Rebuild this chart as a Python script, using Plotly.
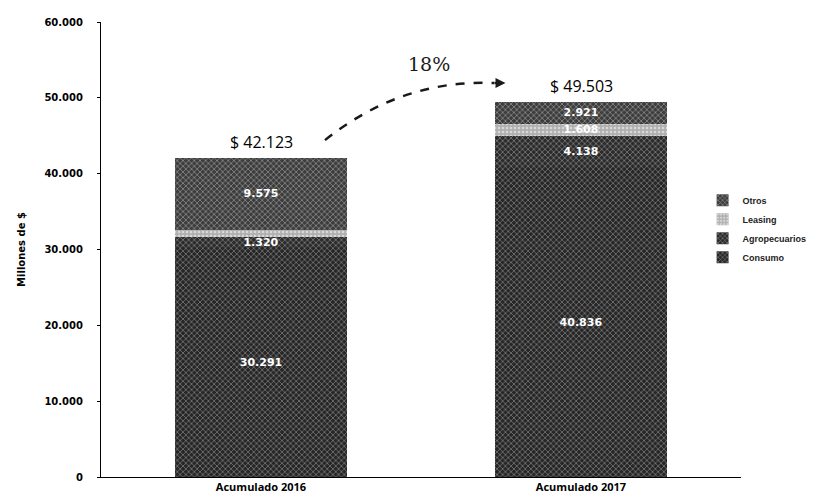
import plotly.graph_objects as go

# Cartera acumulada por tipo de crédito (millones de $)
categorias = ["Acumulado 2016", "Acumulado 2017"]
consumo = [30291, 40836]
agropecuarios = [1320, 4138]
leasing = [937, 1608]
otros = [9575, 2921]

etiquetas_leasing = ["", "1.608"]

y_ticks = [0, 10000, 20000, 30000, 40000, 50000, 60000]


def miles(v):
    return f"{v:,}".replace(",", ".")


totales = [a + b + c + d for a, b, c, d in zip(consumo, agropecuarios, leasing, otros)]
crecimiento = round((totales[1] / totales[0] - 1) * 100)

series = [
    ("Consumo", consumo, "#262626", "#cfcfcf", "x", None),
    ("Agropecuarios", agropecuarios, "#2a2a2a", "#d5d5d5", "x", None),
    ("Leasing", leasing, "#b0b0b0", "#ffffff", ".", etiquetas_leasing),
    ("Otros", otros, "#3c3c3c", "#e0e0e0", "x", None),
]

fig = go.Figure()
for nombre, valores, fondo, trama, forma, etiquetas in series:
    textos = etiquetas if etiquetas is not None else [miles(v) for v in valores]
    fig.add_trace(go.Bar(
        name=nombre,
        x=categorias,
        y=valores,
        text=textos,
        textposition="inside",
        insidetextanchor="middle",
        constraintext="none",
        textfont=dict(family="DejaVu Sans", size=11, color="white", weight="bold"),
        marker=dict(
            color=fondo,
            line=dict(width=0),
            pattern=dict(shape=forma, fgcolor=trama, bgcolor=fondo,
                         size=4, solidity=0.35),
        ),
        hoverinfo="skip",
    ))

# Totales sobre cada barra
for cat, tot in zip(categorias, totales):
    fig.add_annotation(
        x=cat, y=tot, text=f"$ {miles(tot)}", showarrow=False,
        yanchor="bottom", yshift=3,
        font=dict(family="Open Sans", size=16, color="black"),
    )

# Flecha de crecimiento entre ambos años
fig.add_shape(
    type="path", xref="paper", yref="y",
    path=f"M 0.35,{totales[0] + 2300} Q 0.47,{totales[1] + 3000} 0.615,{totales[1] + 2450}",
    line=dict(color="#1a1a1a", width=2.5, dash="dash"),
)
fig.add_annotation(
    xref="paper", yref="y", x=0.632, y=totales[1] + 2450,
    ax=-12, ay=0, showarrow=True, arrowhead=2, arrowsize=1, arrowwidth=2,
    arrowcolor="#1a1a1a", text="",
)
fig.add_annotation(
    xref="paper", yref="y", x=0.513, y=totales[1] + 5000,
    text=f"{crecimiento}%", showarrow=False,
    font=dict(family="DejaVu Serif", size=19, color="#1a1a1a"),
)

fig.update_layout(
    width=817, height=498,
    margin=dict(l=101, r=76, t=22, b=21, autoexpand=False),
    paper_bgcolor="white", plot_bgcolor="white",
    barmode="stack", bargap=0.46,
    separators=",.",
    showlegend=True,
    legend=dict(
        x=0.94, xanchor="left", y=0.64, yanchor="top",
        traceorder="reversed",
        font=dict(family="Liberation Sans", size=9, color="#222222", weight="bold"),
        itemwidth=30, tracegroupgap=0,
    ),
    font=dict(family="DejaVu Sans", color="black"),
)

fig.update_xaxes(
    showline=True, linecolor="black", linewidth=1,
    ticks="", showgrid=False, automargin=False,
    tickfont=dict(family="Open Sans", size=11, color="black", weight="bold"),
)
fig.update_yaxes(
    range=[0, 60000], tickvals=y_ticks,
    ticktext=[miles(v) for v in y_ticks],
    showline=True, linecolor="black", linewidth=1,
    ticks="outside", ticklen=3, tickcolor="black", showgrid=False,
    zeroline=False, automargin=False, ticklabelstandoff=12,
    tickfont=dict(family="DejaVu Sans", size=10, color="black", weight="bold"),
    title=dict(text="Millones de $", standoff=16,
               font=dict(family="DejaVu Sans", size=10, color="black", weight="bold")),
)

fig.write_html("out.html")
